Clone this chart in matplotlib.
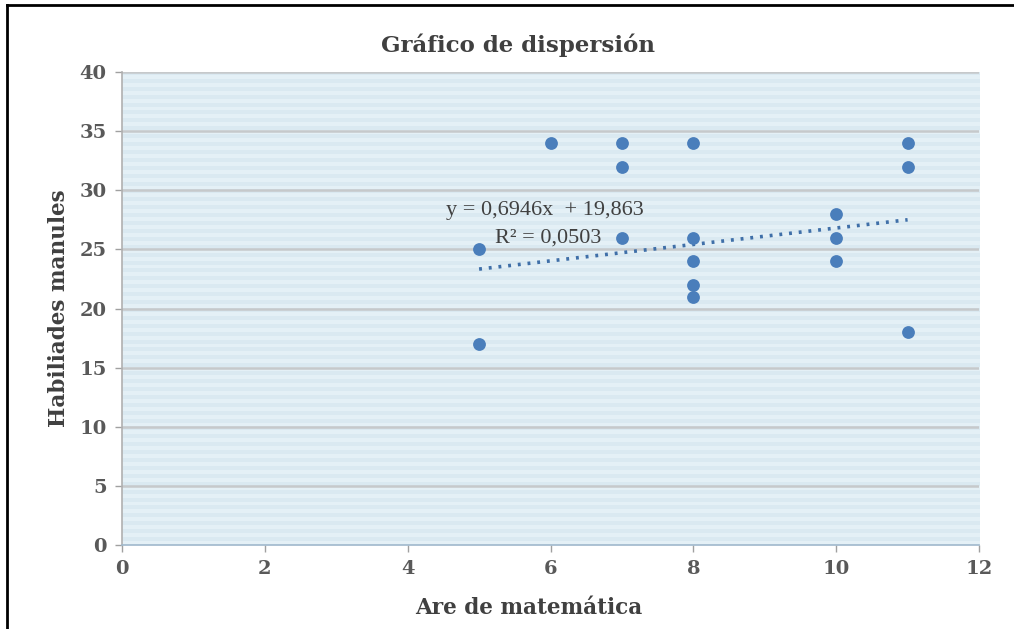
import numpy as np
import matplotlib.pyplot as plt
from matplotlib.lines import Line2D

# datos
area_mat = [5, 5, 6, 7, 7, 7, 8, 8, 8, 8, 8, 10, 10, 10, 11, 11, 11]
habilidades = [25, 17, 34, 34, 32, 26, 34, 26, 24, 22, 21, 28, 26, 24, 34, 32, 18]
pendiente = 0.6946
intercepto = 19.863
r2 = 0.0503

serif = ['DejaVu Serif']
serif2 = ['Liberation Serif', 'DejaVu Serif']
gris = '#595959'

fig = plt.figure(figsize=(10.14, 6.29), dpi=100)
ax = fig.add_axes([0.1203, 0.1335, 0.8452, 0.752])

# fondo a rayas
rayas = np.tile([[0], [1]], (60, 1))
ax.imshow(rayas, extent=[0, 12, 0, 40], aspect='auto', zorder=0,
          cmap=plt.matplotlib.colors.ListedColormap(['#dae9f1', '#e4f0f6']),
          interpolation='nearest')

for v in range(5, 45, 5):
    ax.axhline(v, color='#c6c9cb', lw=1.8, zorder=1)

ax.scatter(area_mat, habilidades, s=85, color='#4a7ebb', zorder=3, linewidths=0)

xt = np.array([min(area_mat), max(area_mat)])
ax.plot(xt, pendiente * xt + intercepto, color='#3f6fa8', lw=2.6,
        linestyle=(0, (0.8, 1.9)), zorder=2)

ax.text(5.92, 28.3, 'y = %sx  + %s' % (str(pendiente).replace('.', ','),
                                        str(intercepto).replace('.', ',')),
        ha='center', va='center', fontsize=16, family=serif2, color='#404040', zorder=4)
ax.text(5.97, 26.0, 'R² = %s' % f'{r2:.4f}'.replace('.', ','),
        ha='center', va='center', fontsize=16, family=serif2, color='#404040', zorder=4)

ax.set_xlim(0, 12)
ax.set_ylim(0, 40)
ax.set_xticks(range(0, 13, 2))
ax.set_yticks(range(0, 41, 5))
for s in ['top', 'right']:
    ax.spines[s].set_visible(False)
ax.spines['left'].set_color('#b0b0b0')
ax.spines['bottom'].set_color('#9fb8cc')
ax.spines['left'].set_linewidth(1.2)
ax.spines['bottom'].set_linewidth(1.2)
ax.tick_params(axis='both', colors='#a0a0a0', length=5, width=1, labelsize=14,
               labelcolor=gris, pad=6)
for lab in ax.get_xticklabels() + ax.get_yticklabels():
    lab.set_family(serif)
    lab.set_fontweight('bold')

fig.text(0.511, 0.928, 'Gráfico de dispersión', ha='center', va='center',
         fontsize=16.5, fontweight='bold', family=serif, color='#404040')
fig.text(0.521, 0.0334, 'Are de matemática', ha='center', va='center',
         fontsize=15.5, fontweight='bold', family=serif, color='#404040')
fig.text(0.058, 0.51, 'Habiliades manules', ha='center', va='center', rotation=90,
         fontsize=15.5, fontweight='bold', family=serif, color='#404040')

# borde negro arriba y a la izquierda
fig.add_artist(Line2D([0.0069, 0.0069], [0, 0.992], transform=fig.transFigure,
                      color='black', lw=2))
fig.add_artist(Line2D([0.0069, 1], [0.992, 0.992], transform=fig.transFigure,
                      color='black', lw=2))

fig.savefig('out.png', dpi=100)
